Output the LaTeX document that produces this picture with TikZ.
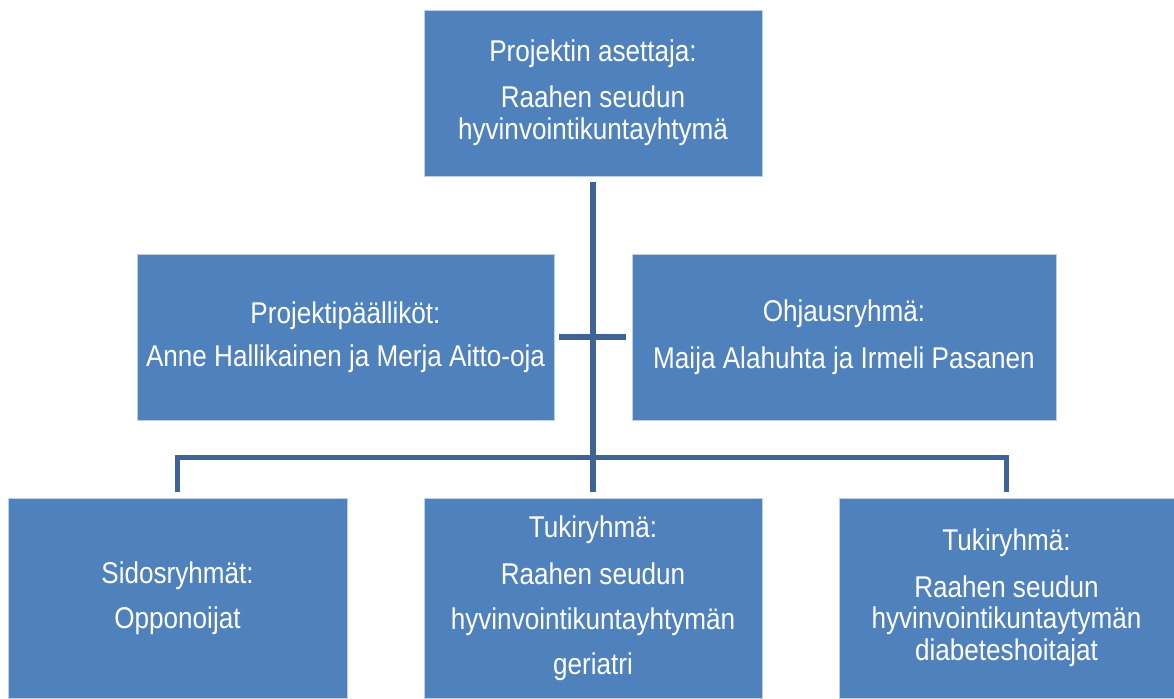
\documentclass[tikz,border=0pt]{standalone}
\usepackage{fontspec}
\setmainfont{Liberation Sans}
\newfontfamily\boxfont[FakeStretch=0.87]{Liberation Sans}
\usepackage{tikz}
\definecolor{boxblue}{RGB}{79,129,189}
\definecolor{boxedge}{RGB}{190,208,230}
\definecolor{linkblue}{RGB}{62,100,150}
\tikzstyle{box} = [rectangle, fill=boxblue, draw=boxedge, line width=0.8pt, text=white, align=center, inner sep=0pt, font=\boxfont\fontsize{30}{32}\selectfont, execute at begin node={\rule{0pt}{28pt}}]
\tikzstyle{link} = [draw=linkblue, line width=5.5pt, line join=miter]

\begin{document}
\begin{tikzpicture}[x=1pt,y=-1pt]
    \useasboundingbox (0,0) rectangle (1174,698);

    \node (aset) [box, minimum width=338pt, minimum height=166pt] at (593,93) {Projektin asettaja:\\[14pt]Raahen seudun\\hyvinvointikuntayhtymä};
    \node (paal) [box, minimum width=417pt, minimum height=166pt] at (345.5,337) {Projektipäälliköt:\\[11pt]Anne Hallikainen ja Merja Aitto-oja};
    \node (ohj) [box, minimum width=424pt, minimum height=166pt] at (844,337) {Ohjausryhmä:\\[15pt]Maija Alahuhta ja Irmeli Pasanen};

    \node (sidos) [box, minimum width=339pt, minimum height=200pt] at (177.5,598) {Sidosryhmät:\\[13pt]Opponoijat};
    \node (tuki1) [box, minimum width=338pt, minimum height=200pt] at (593,598) {Tukiryhmä:\\[15pt]Raahen seudun\\[13pt]hyvinvointikuntayhtymän\\[13pt]geriatri};
    \node (tuki2) [box, minimum width=335pt, minimum height=200pt] at (1006.5,598) {Tukiryhmä:\\[15pt]Raahen seudun\\[-1pt]hyvinvointikuntaytymän\\diabeteshoitajat};

    \draw[link, shorten <=6pt, shorten >=6pt] (aset.south) -- (tuki1.north);
    \draw[link, shorten <=5pt, shorten >=6pt] (paal.east) -- (ohj.west);
    \draw[link, shorten <=6pt, shorten >=6pt] (sidos.north) -- ++(0,-40) -| (tuki2.north);
\end{tikzpicture}
\end{document}
